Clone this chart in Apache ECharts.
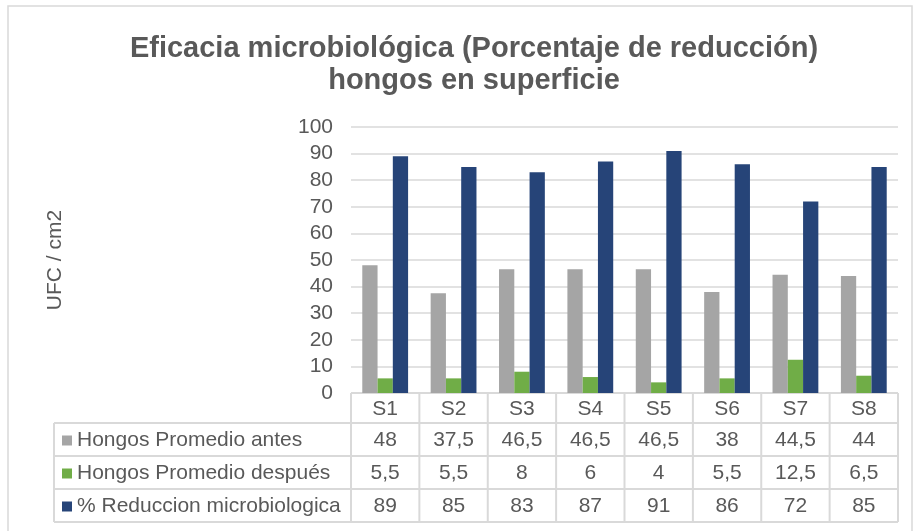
<!DOCTYPE html>
<html><head><meta charset="utf-8">
<script src="https://cdn.jsdelivr.net/npm/echarts@6/dist/echarts.min.js"></script>
<style>html,body{margin:0;padding:0;background:#fff}#c{width:915px;height:531px}</style>
</head><body><div id="c"></div>
<script>
const categories = ['S1','S2','S3','S4','S5','S6','S7','S8'];
const seriesNames = ['Hongos Promedio antes','Hongos Promedio después','% Reduccion microbiologica'];
const antes = [48, 37.5, 46.5, 46.5, 46.5, 38, 44.5, 44];
const despues = [5.5, 5.5, 8, 6, 4, 5.5, 12.5, 6.5];
const reduccion = [89, 85, 83, 87, 91, 86, 72, 85];
const yTicks = {min: 0, max: 100, interval: 10};
const colors = ['#A5A5A5', '#70AD47', '#264478'];
const textColor = '#595959';
const lineColor = '#D9D9D9';
const FONT = 'Liberation Sans, Arial, sans-serif';

const chart = echarts.init(document.getElementById('c'));
const seriesData = [antes, despues, reduccion];

chart.setOption({
  animation: false,
  title: {
    text: 'Eficacia microbiológica (Porcentaje de reducción)\nhongos en superficie',
    left: 469, top: 28, textAlign: 'center',
    textStyle: {fontFamily: FONT, fontSize: 29, fontWeight: 'bold', color: textColor, lineHeight: 32}
  },
  grid: {left: 351, right: 17, top: 127, bottom: 138},
  xAxis: {
    type: 'category', data: categories,
    axisLine: {show: false}, axisTick: {show: false}, axisLabel: {show: false}
  },
  yAxis: {
    type: 'value', min: yTicks.min, max: yTicks.max, interval: yTicks.interval,
    name: 'UFC / cm2', nameLocation: 'middle', nameRotate: 90, nameGap: 285,
    nameTextStyle: {fontFamily: FONT, fontSize: 21, color: textColor},
    axisLine: {show: false}, axisTick: {show: false},
    axisLabel: {fontFamily: FONT, fontSize: 21, color: textColor, margin: 18},
    splitLine: {lineStyle: {color: lineColor, width: 1.5}}
  },
  series: seriesData.map((d, i) => ({
    name: seriesNames[i], type: 'bar', data: d,
    barGap: '0%', barCategoryGap: '33%',
    itemStyle: {color: colors[i]}
  }))
});

function buildTable() {
  const x0 = chart.convertToPixel({xAxisIndex: 0}, 0);
  const x1 = chart.convertToPixel({xAxisIndex: 0}, 1);
  const colW = x1 - x0;
  const left = x0 - colW / 2;
  const right = left + colW * categories.length;
  const top = chart.convertToPixel({yAxisIndex: 0}, 0);
  const headH = 30, rowH = 33;
  const legLeft = 54;
  const els = [];
  const ls = {stroke: lineColor, lineWidth: 2};
  els.push({type: 'rect', shape: {x: 8, y: 6, width: 904, height: 560}, style: {fill: 'none', stroke: lineColor, lineWidth: 1.5}, silent: true});
  const bottom = top + headH + rowH * 3;
  els.push({type: 'line', shape: {x1: left, y1: top, x2: right, y2: top}, style: ls});
  for (let r = 0; r <= 3; r++) {
    const y = top + headH + rowH * r;
    els.push({type: 'line', shape: {x1: legLeft, y1: y, x2: right, y2: y}, style: ls});
  }
  for (let c = 0; c <= categories.length; c++) {
    const x = left + colW * c;
    els.push({type: 'line', shape: {x1: x, y1: top, x2: x, y2: bottom}, style: ls});
  }
  els.push({type: 'line', shape: {x1: legLeft, y1: top + headH, x2: legLeft, y2: bottom}, style: ls});
  const ts = {fontFamily: FONT, fontSize: 21, fill: textColor, align: 'center', verticalAlign: 'middle'};
  categories.forEach((c, i) => {
    els.push({type: 'text', x: left + colW * (i + 0.5), y: top + headH / 2 + 1, style: Object.assign({text: c}, ts)});
  });
  seriesData.forEach((d, r) => {
    const yc = top + headH + rowH * (r + 0.5) + 1;
    els.push({type: 'rect', shape: {x: legLeft + 8, y: yc - 5, width: 10, height: 10}, style: {fill: colors[r]}});
    els.push({type: 'text', x: legLeft + 23, y: yc, style: Object.assign({}, ts, {text: seriesNames[r], align: 'left'})});
    d.forEach((v, i) => {
      els.push({type: 'text', x: left + colW * (i + 0.5), y: yc, style: Object.assign({text: String(v).replace('.', ',')}, ts)});
    });
  });
  chart.setOption({graphic: {elements: els}});
}
buildTable();
</script></body></html>
